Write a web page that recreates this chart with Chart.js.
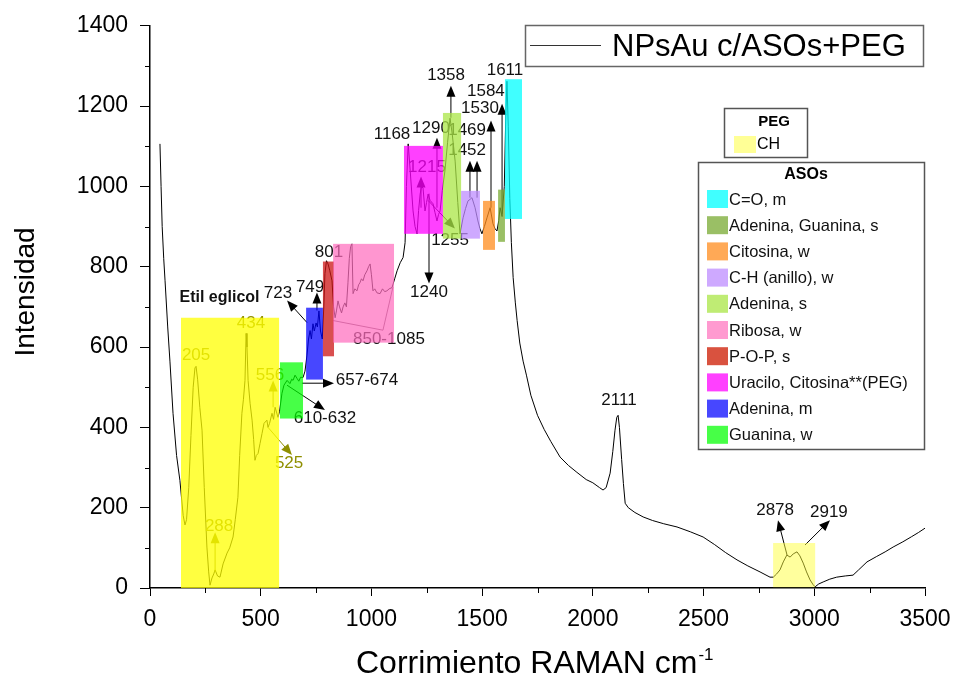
<!DOCTYPE html>
<html>
<head>
<meta charset="utf-8">
<script src="https://cdn.jsdelivr.net/npm/chart.js@4.4.1/dist/chart.umd.min.js"></script>
<style>
    body { margin: 0; background: #fff; }
</style>
</head>
<body>
<canvas id="ramanChart" width="956" height="677"></canvas>
<script>
// Espectro Raman NPsAu c/ASOs+PEG
const ramanShift = [45, 50, 55, 62, 68, 80, 90, 104, 120, 135, 150, 158, 165, 175, 185, 195, 203, 208, 215, 225, 235, 245, 257, 265, 271, 280, 288, 294, 305, 316, 330, 348, 360, 375, 385, 397, 405, 415, 422, 429, 434, 438, 443, 452, 461, 468, 474, 480, 488, 497, 506, 515, 528, 533, 540, 551, 558, 565, 578, 585, 596, 605, 619, 632, 640, 646, 655, 664, 672, 680, 691, 700, 709, 716, 723, 729, 736, 742, 750, 756, 763, 770, 778, 785, 790, 797, 804, 812, 822, 829, 836, 842, 849, 856, 865, 872, 880, 887, 894, 900, 906, 912, 917, 925, 935, 942, 948, 955, 962, 970, 980, 987, 994, 1000, 1007, 1015, 1025, 1039, 1050, 1060, 1070, 1080, 1093, 1105, 1116, 1130, 1143, 1152, 1158, 1166, 1175, 1188, 1197, 1206, 1213, 1220, 1226, 1233, 1242, 1249, 1256, 1265, 1278, 1287, 1296, 1303, 1310, 1320, 1332, 1344, 1355, 1365, 1378, 1390, 1400, 1414, 1425, 1436, 1446, 1454, 1468, 1481, 1490, 1499, 1510, 1522, 1536, 1549, 1558, 1567, 1575, 1581, 1590, 1600, 1607, 1612, 1618, 1625, 1632, 1640, 1650, 1658, 1670, 1685, 1700, 1720, 1750, 1780, 1810, 1852, 1890, 1928, 1970, 2000, 2030, 2046, 2060, 2078, 2090, 2100, 2108, 2114, 2120, 2130, 2138, 2146, 2160, 2190, 2227, 2270, 2320, 2380, 2440, 2498, 2550, 2600, 2651, 2700, 2755, 2800, 2815, 2830, 2845, 2860, 2876, 2891, 2905, 2922, 2935, 2950, 2965, 2981, 2995, 3004, 3020, 3040, 3070, 3101, 3140, 3175, 3200, 3238, 3280, 3320, 3356, 3400, 3440, 3470, 3500];
const intensity = [1106, 1000, 900, 820, 765, 650, 565, 435, 330, 268, 180, 157, 170, 250, 380, 500, 548, 552, 520, 450, 393, 250, 102, 40, 7, 25, 35, 45, 30, 27, 60, 87, 100, 127, 170, 226, 330, 435, 470, 517, 634, 600, 517, 460, 418, 370, 318, 330, 335, 360, 385, 410, 418, 400, 410, 435, 420, 450, 425, 440, 485, 505, 517, 509, 520, 517, 530, 522, 515, 525, 524, 540, 580, 620, 641, 620, 658, 640, 660, 650, 690, 640, 620, 700, 783, 815, 807, 790, 765, 700, 673, 690, 715, 700, 685, 700, 710, 700, 760, 820, 850, 857, 733, 745, 740, 755, 760, 770, 765, 780, 790, 800, 807, 780, 740, 745, 735, 733, 745, 738, 740, 745, 748, 770, 790, 810, 823, 860, 1000, 1106, 1040, 939, 900, 882, 940, 981, 1000, 996, 939, 960, 981, 965, 957, 935, 914, 930, 939, 990, 1039, 1110, 1170, 1130, 1063, 960, 882, 922, 945, 964, 968, 972, 947, 914, 895, 882, 900, 922, 947, 907, 895, 889, 915, 947, 925, 1000, 1180, 1262, 1150, 970, 860, 773, 710, 666, 610, 565, 530, 480, 430, 395, 365, 326, 305, 288, 270, 262, 250, 244, 250, 286, 340, 393, 425, 430, 400, 320, 260, 211, 200, 188, 177, 168, 160, 152, 140, 127, 108, 88, 70, 55, 40, 27, 27, 35, 45, 65, 82, 77, 85, 90, 80, 62, 40, 20, 8, 3, 10, 15, 22, 27, 30, 32, 45, 65, 78, 90, 102, 115, 128, 138, 149];

const xTicks = [0, 500, 1000, 1500, 2000, 2500, 3000, 3500];
const yTicks = [0, 200, 400, 600, 800, 1000, 1200, 1400];

// Bandas asignadas (cm-1 e intensidad)
const bandNames = ['Etil eglicol', 'Guanina, w', 'Adenina, m', 'P-O-P, s', 'Ribosa, w', 'Uracilo, Citosina**(PEG)', 'Adenina, s', 'C-H (anillo), w', 'Citosina, w', 'Adenina, Guanina, s', 'C=O, m', 'CH'];
const bandStart = [140, 587, 705, 781, 827, 1147, 1323, 1405, 1504, 1572, 1603, 2814];
const bandEnd = [583, 691, 781, 831, 1102, 1323, 1405, 1490, 1558, 1603, 1680, 3004];
const bandLow = [0, 422, 519, 577, 611, 882, 870, 870, 842, 862, 919, 2];
const bandHigh = [673, 562, 698, 813, 857, 1101, 1183, 989, 964, 992, 1267, 112];
const bandColors = ['rgba(255,255,0,0.75)', 'rgba(0,255,0,0.72)', 'rgba(0,0,255,0.72)', 'rgba(204,20,20,0.75)', 'rgba(255,110,190,0.72)', 'rgba(255,0,255,0.75)', 'rgba(170,230,70,0.75)', 'rgba(190,140,255,0.75)', 'rgba(255,140,30,0.75)', 'rgba(120,170,50,0.75)', 'rgba(0,255,255,0.75)', 'rgba(255,255,60,0.5)'];

// Etiquetas de picos (posicion en unidades de datos)
const peakText = ['205', '434', '288', '556', '525', '723', '749', '801', '850-1085', '657-674', '610-632', '1240', '1255', '1215', '1168', '1290', '1358', '1469', '1452', '1530', '1584', '1611', '2111', '2878', '2919'];
const peakX = [208, 456, 312, 542, 628, 578, 723, 808, 1079, 980, 790, 1260, 1355, 1251, 1093, 1269, 1337, 1432, 1432, 1490, 1517, 1603, 2118, 2823, 3066];
const peakY = [579, 659, 154, 530, 311, 734, 749, 836, 619, 517, 423, 736, 865, 1047, 1131, 1144, 1276, 1139, 1089, 1194, 1238, 1288, 467, 194, 189];
const peakColors = ['#8f8f00', '#8f8f00', '#8f8f00', '#8f8f00', '#8f8f00'];

// Flechas: [x1, y1, x2, y2]
const arrows = [
    [294, 40, 294, 139], [556, 450, 556, 517], [533, 400, 641, 331],
    [709, 661, 619, 716], [754, 691, 754, 736], [686, 510, 831, 510],
    [619, 505, 790, 443], [1260, 982, 1260, 758], [1224, 947, 1224, 1025],
    [1256, 965, 1377, 895], [1296, 947, 1296, 1121], [1359, 1171, 1359, 1251],
    [1445, 972, 1445, 1064], [1477, 972, 1477, 1064], [1540, 947, 1540, 1164],
    [1590, 932, 1590, 1206], [2877, 82, 2836, 169], [2958, 107, 3071, 169]
];
const arrowColors = ['#8f8f00', '#8f8f00', '#8f8f00'];
const riboseBracket = [[827, 666], [1052, 642], [1097, 749]];

const asosItems = ['C=O, m', 'Adenina, Guanina, s', 'Citosina, w', 'C-H (anillo), w', 'Adenina, s', 'Ribosa, w', 'P-O-P, s', 'Uracilo, Citosina**(PEG)', 'Adenina, m', 'Guanina, w'];
const asosColors = ['#40ffff', '#9abf65', '#ffa956', '#cea9ff', '#bfec74', '#ff9ad0', '#d9523f', '#ff40ff', '#4747ff', '#47ff47'];

const FONT = '"Liberation Sans", Arial, sans-serif';

function drawArrow(ctx, x1, y1, x2, y2, color) {
    const ang = Math.atan2(y2 - y1, x2 - x1);
    const len = 11, half = 4.5;
    ctx.strokeStyle = color;
    ctx.fillStyle = color;
    ctx.lineWidth = 1;
    ctx.beginPath();
    ctx.moveTo(x1, y1);
    ctx.lineTo(x2 - Math.cos(ang) * len * 0.7, y2 - Math.sin(ang) * len * 0.7);
    ctx.stroke();
    ctx.beginPath();
    ctx.moveTo(x2, y2);
    ctx.lineTo(x2 - len * Math.cos(ang) + half * Math.sin(ang), y2 - len * Math.sin(ang) - half * Math.cos(ang));
    ctx.lineTo(x2 - len * Math.cos(ang) - half * Math.sin(ang), y2 - len * Math.sin(ang) + half * Math.cos(ang));
    ctx.closePath();
    ctx.fill();
}

const annotationsPlugin = {
    id: 'annotations',
    afterDatasetsDraw(chart) {
        const ctx = chart.ctx;
        const xs = chart.scales.x, ys = chart.scales.y;
        const px = v => xs.getPixelForValue(v);
        const py = v => ys.getPixelForValue(v);
        ctx.save();

        // flechas y etiquetas (debajo de las bandas)
        arrows.forEach((a, i) => {
            drawArrow(ctx, px(a[0]), py(a[1]), px(a[2]), py(a[3]), arrowColors[i] || '#000');
        });
        ctx.strokeStyle = '#7a5a6a';
        ctx.lineWidth = 1;
        ctx.beginPath();
        riboseBracket.forEach((p, i) => {
            if (i === 0) ctx.moveTo(px(p[0]), py(p[1]));
            else ctx.lineTo(px(p[0]), py(p[1]));
        });
        ctx.stroke();

        ctx.font = '17px ' + FONT;
        ctx.textAlign = 'center';
        ctx.textBaseline = 'middle';
        peakText.forEach((t, i) => {
            ctx.fillStyle = peakColors[i] || '#111';
            ctx.fillText(t, px(peakX[i]), py(peakY[i]));
        });

        ctx.font = 'bold 16px ' + FONT;
        ctx.fillStyle = '#111';
        ctx.fillText('Etil eglicol', px(314), py(724));

        // bandas
        bandStart.forEach((s, i) => {
            const x1 = px(s), x2 = px(bandEnd[i]);
            const y1 = py(bandHigh[i]), y2 = py(bandLow[i]);
            ctx.fillStyle = bandColors[i];
            ctx.fillRect(x1, y1, x2 - x1, y2 - y1);
        });

        ctx.restore();
    },
    afterDraw(chart) {
        const ctx = chart.ctx;
        const xs = chart.scales.x, ys = chart.scales.y;
        const area = chart.chartArea;
        ctx.save();

        // ticks menores
        ctx.strokeStyle = '#000';
        ctx.lineWidth = 1;
        ctx.beginPath();
        for (let v = 100; v < 1400; v += 200) {
            const y = Math.round(ys.getPixelForValue(v)) + 0.5;
            ctx.moveTo(area.left - 5, y);
            ctx.lineTo(area.left, y);
        }
        for (let v = 250; v < 3500; v += 500) {
            const x = Math.round(xs.getPixelForValue(v)) + 0.5;
            ctx.moveTo(x, area.bottom);
            ctx.lineTo(x, area.bottom + 5);
        }
        ctx.stroke();

        // titulos de ejes
        ctx.fillStyle = '#000';
        ctx.font = '28px ' + FONT;
        ctx.textAlign = 'center';
        ctx.textBaseline = 'alphabetic';
        ctx.save();
        ctx.translate(34, 292);
        ctx.rotate(-Math.PI / 2);
        ctx.fillText('Intensidad', 0, 0);
        ctx.restore();

        ctx.textAlign = 'left';
        ctx.font = '32px ' + FONT;
        const xTitle = 'Corrimiento RAMAN cm';
        ctx.fillText(xTitle, 356, 673);
        const w = ctx.measureText(xTitle).width;
        ctx.font = '17px ' + FONT;
        ctx.fillText('-1', 356 + w + 1, 660);

        // leyenda principal
        ctx.fillStyle = '#fff';
        ctx.fillRect(525, 25, 398, 41);
        ctx.strokeStyle = '#666';
        ctx.lineWidth = 1.5;
        ctx.strokeRect(525.5, 25.5, 398, 41);
        ctx.strokeStyle = '#333';
        ctx.lineWidth = 1;
        ctx.beginPath();
        ctx.moveTo(530, 45.5);
        ctx.lineTo(601, 45.5);
        ctx.stroke();
        ctx.fillStyle = '#000';
        ctx.font = '31px ' + FONT;
        ctx.fillText('NPsAu c/ASOs+PEG', 612, 56);

        // leyenda PEG
        ctx.fillStyle = '#fff';
        ctx.fillRect(724, 108, 83, 49);
        ctx.strokeStyle = '#555';
        ctx.lineWidth = 1.5;
        ctx.strokeRect(724.5, 108.5, 83, 49);
        ctx.fillStyle = '#000';
        ctx.font = 'bold 15px ' + FONT;
        ctx.textAlign = 'center';
        ctx.textBaseline = 'middle';
        ctx.fillText('PEG', 774, 122);
        ctx.fillStyle = '#ffff96';
        ctx.fillRect(734, 136, 22, 17);
        ctx.fillStyle = '#000';
        ctx.textAlign = 'left';
        ctx.font = '16px ' + FONT;
        ctx.fillText('CH', 757, 145);

        // leyenda ASOs
        ctx.fillStyle = '#fff';
        ctx.fillRect(698, 162, 226, 287);
        ctx.strokeStyle = '#555';
        ctx.strokeRect(698.5, 162.5, 226, 287);
        ctx.fillStyle = '#000';
        ctx.font = 'bold 16px ' + FONT;
        ctx.textAlign = 'center';
        ctx.fillText('ASOs', 806, 175);
        ctx.textAlign = 'left';
        ctx.font = '16.5px ' + FONT;
        asosItems.forEach((label, i) => {
            const y = 199 + i * 26.2;
            ctx.fillStyle = asosColors[i];
            ctx.fillRect(707, y - 9, 21, 18);
            ctx.fillStyle = '#111';
            ctx.fillText(label, 729, y + 1);
        });

        ctx.restore();
    }
};

document.addEventListener('DOMContentLoaded', function() {
    const ctx = document.getElementById('ramanChart');
    new Chart(ctx, {
        type: 'line',
        data: {
            datasets: [{
                label: 'NPsAu c/ASOs+PEG',
                data: ramanShift.map((x, i) => ({ x: x, y: intensity[i] })),
                borderColor: '#000',
                borderWidth: 1,
                pointRadius: 0,
                tension: 0,
                fill: false
            }]
        },
        options: {
            responsive: false,
            animation: false,
            layout: {
                padding: { left: 0, right: 31, top: 25, bottom: 0 }
            },
            plugins: {
                legend: { display: false },
                tooltip: { enabled: false }
            },
            scales: {
                x: {
                    type: 'linear',
                    min: 0,
                    max: 3500,
                    afterFit: function(scale) {
                        scale.height = 89;
                        scale.paddingLeft = 0;
                        scale.paddingRight = 0;
                    },
                    afterBuildTicks: function(scale) {
                        scale.ticks = xTicks.map(v => ({ value: v }));
                    },
                    border: { display: true, color: '#000', width: 1.5 },
                    grid: { drawOnChartArea: false, drawTicks: true, tickLength: 8, color: '#000' },
                    ticks: {
                        color: '#000',
                        padding: 10,
                        maxRotation: 0,
                        font: { family: FONT, size: 23 },
                        callback: function(value) { return String(value); }
                    }
                },
                y: {
                    min: 0,
                    max: 1400,
                    afterFit: function(scale) { scale.width = 150; },
                    afterBuildTicks: function(scale) {
                        scale.ticks = yTicks.map(v => ({ value: v }));
                    },
                    border: { display: true, color: '#000', width: 1.5 },
                    grid: { drawOnChartArea: false, drawTicks: true, tickLength: 10, color: '#000' },
                    ticks: {
                        color: '#000',
                        padding: 12,
                        font: { family: FONT, size: 23 },
                        callback: function(value) { return String(value); }
                    }
                }
            }
        },
        plugins: [annotationsPlugin]
    });
});
</script>
</body>
</html>
